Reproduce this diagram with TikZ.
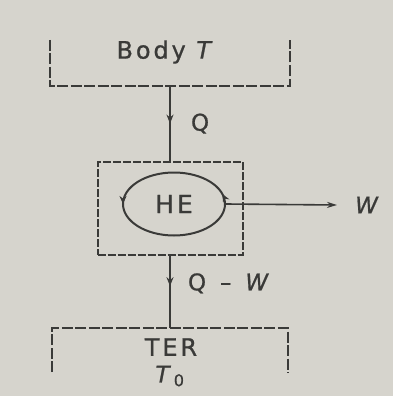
\documentclass[tikz,border=0pt]{standalone}
\usepackage{fontspec}
\newfontfamily\letterfont[LetterSpace=12,FakeBold=0.8]{DejaVu Sans}
\usetikzlibrary{positioning,shapes.geometric,arrows.meta,decorations.markings}
\definecolor{paper}{RGB}{214,212,205}
\definecolor{ink}{RGB}{58,58,56}

\begin{document}
\begin{tikzpicture}[
x=1pt, y=-1pt,
txt/.style={
text=ink,
font=\letterfont\fontsize{23}{25}\selectfont,
inner sep=0pt
},
tank/.style={
inner sep=0pt,
minimum width=#1,
minimum height=46pt
},
wall/.style={
draw=ink,
line width=2.2pt,
dash pattern=on 11pt off 2.5pt
},
enginebox/.style={
draw=ink,
line width=2pt,
dash pattern=on 8pt off 2pt,
minimum width=145pt,
minimum height=93pt
},
flow/.style={
draw=ink,
line width=2pt,
postaction={decorate},
decoration={markings,
mark=at position #1 with {\arrow{Stealth[length=9pt,width=7pt]}}}
}
]

\useasboundingbox (0,0) rectangle (393,396);
\fill[paper] (0,0) rectangle (393,396);


% Hot body

\node (body) [tank=240pt] at (170,63) {};
\node (bodylbl) [txt, font=\letterfont\fontsize{24}{26}\selectfont] at (166,52) {Body\ \textit{T}};

\draw[wall] (body.north west) -- (body.south west) -- (body.south east) -- (body.north east);


% Heat engine

\node (engine) [enginebox] at (170,208.5) {};

\node (he) [ellipse, draw=ink, line width=2pt, minimum width=102pt, minimum height=63pt,
inner sep=0pt, txt, font=\letterfont\fontsize{25}{27}\selectfont,
postaction={decorate},
decoration={markings,
mark=at position 0.04 with {\arrow{Stealth[length=8pt,width=7pt]}},
mark=at position 0.5 with {\arrow{Stealth[length=8pt,width=7pt]}}}]
at (174,204) {HE};


% Reservoir

\node (ter) [tank=235pt, minimum height=44pt] at (170,350) {};
\node (terlbl) [txt, font=\letterfont\fontsize{24}{26}\selectfont] at (171,347) {TER};
\node (tzero) [txt] at (170,376) {\textit{T}\textsubscript{0}};

\draw[wall] (ter.south west) -- (ter.north west) -- (ter.north east) -- (ter.south east);


% Heat and work flows

\coordinate (wtip) at (337,205);

\draw[flow=0.5] (body) -- (engine) node [txt, midway, right=20pt] (q) {Q};
\draw[flow=0.42] (engine) -- (ter) node [txt, pos=0.38, right=17pt] (qw) {Q\ \,–\ \,\textit{W}};
\draw[draw=ink, line width=1.6pt, -{Stealth[length=10pt,width=6pt]}] (he.east) -- (wtip);

\node (w) [txt, right=18pt of wtip] {\textit{W}};


\end{tikzpicture}
\end{document}
